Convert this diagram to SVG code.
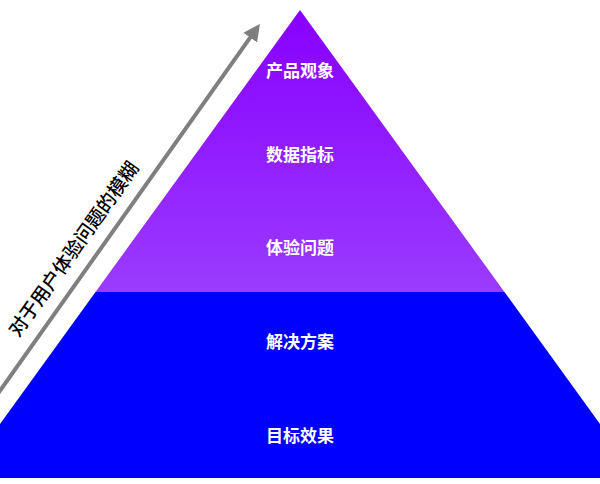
<svg xmlns="http://www.w3.org/2000/svg" width="600" height="484" viewBox="0 0 600 484">
  <defs>
    <linearGradient id="purpleGrad" x1="0" y1="10" x2="0" y2="292" gradientUnits="userSpaceOnUse">
      <stop offset="0" stop-color="#8800ff"/>
      <stop offset="1" stop-color="#9b3bff"/>
    </linearGradient>
    <marker id="arrowHead" viewBox="0 0 10 10" refX="7" refY="5" markerWidth="4.2" markerHeight="4.2" orient="auto" markerUnits="strokeWidth">
      <path d="M0,0 L10,5 L0,10 z" fill="#7f7f7f"/>
    </marker>
    <style>
      .lbl { font-family: "Noto Sans CJK SC", "Liberation Sans", sans-serif; font-size: 17px; font-weight: bold; fill: #ffffff; text-anchor: middle; dominant-baseline: central; }
      .side { font-family: "Noto Sans CJK SC", "Liberation Sans", sans-serif; font-size: 19px; font-weight: 500; fill: #000000; text-anchor: middle; dominant-baseline: central; }
    </style>
  </defs>
  <rect x="0" y="0" width="600" height="484" fill="#ffffff"/>
  <g id="layer-top">
    <polygon points="300,10 504.5,292 95.5,292" fill="url(#purpleGrad)"/>
    <text class="lbl" x="300" y="69">产品观象</text>
    <text class="lbl" x="300" y="153">数据指标</text>
    <text class="lbl" x="300" y="246">体验问题</text>
  </g>
  <g id="layer-bottom">
    <polygon points="95.5,292 504.5,292 639,478 -39,478" fill="#0000ff"/>
    <text class="lbl" x="300" y="340">解决方案</text>
    <text class="lbl" x="300" y="434">目标效果</text>
  </g>
  <g id="connectors">
    <line x1="-3" y1="395" x2="257" y2="28" stroke="#7f7f7f" stroke-width="4" marker-end="url(#arrowHead)"/>
  </g>
  <g id="side-label">
    <text class="side" transform="translate(72,248) rotate(-54.6)">对于用户体验问题的模糊</text>
  </g>
</svg>
